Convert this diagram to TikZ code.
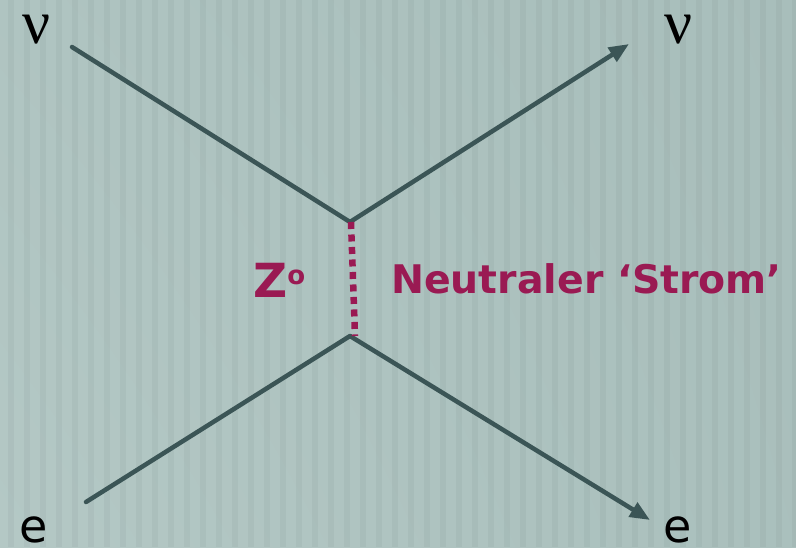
\documentclass[tikz,border=0pt]{standalone}
\usepackage{fontspec}
\setmainfont{Liberation Serif}
\setsansfont{DejaVu Sans}
\usetikzlibrary{arrows.meta,shadings}
\definecolor{bgL}{HTML}{B4C8C5}
\definecolor{bgR}{HTML}{A8BEBB}
\definecolor{linec}{HTML}{3B5556}
\definecolor{magc}{HTML}{9A1A53}
\tikzset{
  fermion/.style={draw=linec, line width=4.5pt},
  fermarrow/.style={fermion, -{Triangle[length=20pt,width=16pt]}},
  boson/.style={draw=magc, line width=6.5pt, dash pattern=on 7pt off 5.5pt},
  greek/.style={font=\fontsize{62}{62}\selectfont, text=black, inner sep=0pt, text height=29pt, text depth=0pt},
  elec/.style={font=\sffamily\fontsize{46}{46}\selectfont, text=black, inner sep=0pt, text height=26pt, text depth=0pt},
  maglabel/.style={font=\sffamily\bfseries, text=magc, inner sep=0pt}
}
\begin{document}
\begin{tikzpicture}[x=1pt,y=-1pt]
\useasboundingbox (0,0) rectangle (796,547);
\shade[lower left=bgL, upper left=bgL!60!bgR, lower right=bgR!85!bgL, upper right=bgR] (0,0) rectangle (796,547);
\foreach \i in {0,16,...,784} {\fill[black, opacity=0.035] (\i+8,0) rectangle (\i+14,547);}
% vertices
\coordinate (top) at (350,222);
\coordinate (bot) at (350,336);
\coordinate (nuin) at (72,47);
\coordinate (nuout) at (629,44);
\coordinate (ein) at (86,502);
\coordinate (eout) at (650,520);
% labels
\node[greek, anchor=base] (nuL) at (37,43) {ν};
\node[greek, anchor=base] (nuR) at (679,43) {ν};
\node[elec, anchor=base] (eL) at (34,542) {e};
\node[elec, anchor=base] (eR) at (678,542) {e};
\node[maglabel, anchor=base west, font=\sffamily\bfseries\fontsize{47}{47}\selectfont] (Z) at (253,297) {Z\raisebox{0.5ex}{\fontsize{26}{26}\selectfont o}};
\node[maglabel, anchor=base west, font=\sffamily\bfseries\fontsize{39.4}{39.4}\selectfont] (NS) at (391,293) {Neutraler ‘Strom’};
% lines
\draw[fermion, line cap=round] (nuin) -- (top);
\draw[fermarrow] (top) -- (nuout);
\draw[fermion, line cap=round] (ein) -- (bot);
\draw[fermarrow] (bot) -- (eout);
\draw[boson] (351,222) -- (355,336);
\end{tikzpicture}
\end{document}
